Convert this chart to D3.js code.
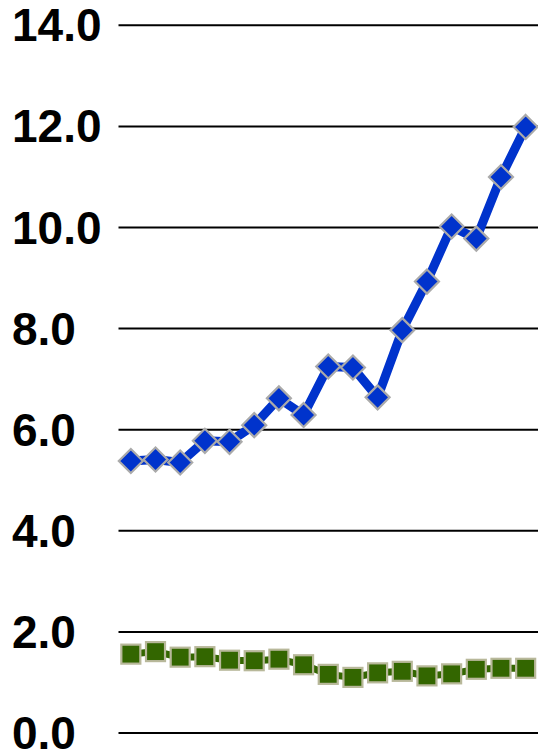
<!DOCTYPE html>
<html>
<head>
<meta charset="utf-8">
<script src="https://cdn.jsdelivr.net/npm/d3@7"></script>
<style>
  html, body { margin: 0; padding: 0; background: #fff; }
  svg { display: block; }
</style>
</head>
<body>
<svg id="chart" width="538" height="755"></svg>
<script>
const categories = ["1","2","3","4","5","6","7","8","9","10","11","12","13","14","15","16","17"];
const blueValues = [5.38, 5.41, 5.35, 5.78, 5.76, 6.09, 6.62, 6.29, 7.25, 7.23, 6.64, 7.97, 8.93, 10.02, 9.78, 11.0, 11.99];
const greenValues = [1.56, 1.61, 1.50, 1.51, 1.44, 1.43, 1.46, 1.35, 1.16, 1.10, 1.19, 1.22, 1.13, 1.17, 1.26, 1.28, 1.28];
const yTicks = [0, 2, 4, 6, 8, 10, 12, 14];

const svg = d3.select("#chart");
const plotLeft = 118.5, plotRight = 538, plotTop = 25.3, plotBottom = 733;

const x = d3.scalePoint().domain(categories).range([plotLeft, plotRight]).padding(0.5);
const y = d3.scaleLinear().domain([0, 14]).range([plotBottom, plotTop]);

// gridlines
svg.append("g").selectAll("line").data(yTicks).join("line")
  .attr("x1", plotLeft).attr("x2", plotRight)
  .attr("y1", d => y(d)).attr("y2", d => y(d))
  .attr("stroke", "#000").attr("stroke-width", 2);

// labels
svg.append("g").selectAll("text").data(yTicks).join("text")
  .attr("x", 12).attr("y", d => y(d))
  .attr("dominant-baseline", "central")
  .attr("font-family", "'Liberation Sans', Arial, sans-serif")
  .attr("font-weight", "bold").attr("font-size", 46)
  .attr("fill", "#000")
  .text(d => d3.format(".1f")(d));

const line = d3.line().x((d, i) => x(categories[i])).y(d => y(d));

// green series
svg.append("path").datum(greenValues).attr("d", line)
  .attr("fill", "none").attr("stroke", "#336600").attr("stroke-width", 7);
svg.append("g").selectAll("rect").data(greenValues).join("rect")
  .attr("x", (d, i) => x(categories[i]) - 9.5)
  .attr("y", d => y(d) - 9.5)
  .attr("width", 19).attr("height", 19)
  .attr("fill", "#336600").attr("stroke", "#b8b89a").attr("stroke-width", 2.2);

// blue series
svg.append("path").datum(blueValues).attr("d", line)
  .attr("fill", "none").attr("stroke", "#0033cc").attr("stroke-width", 9)
  .attr("stroke-linejoin", "round");
svg.append("g").selectAll("path.m").data(blueValues).join("path")
  .attr("class", "m")
  .attr("d", (d, i) => {
    const cx = x(categories[i]), cy = y(d), r = 12;
    return `M${cx},${cy - r}L${cx + r},${cy}L${cx},${cy + r}L${cx - r},${cy}Z`;
  })
  .attr("fill", "#0033cc").attr("stroke", "#aaaaaa").attr("stroke-width", 2.2);
</script>
</body>
</html>
